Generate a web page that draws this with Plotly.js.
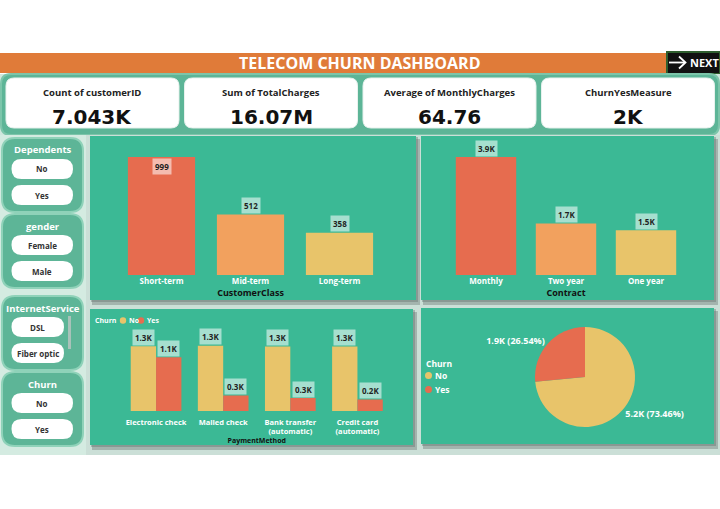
<!DOCTYPE html>
<html><head><meta charset="utf-8">
<script src="https://cdn.plot.ly/plotly-3.0.1.min.js"></script>
<style>html,body{margin:0;padding:0;background:#fff}#chart{width:720px;height:509px}</style>
</head><body><div id="chart"></div>
<script>
// ---------- data ----------
const dashTitle = 'TELECOM CHURN DASHBOARD';
const kpiLabels = ['Count of customerID', 'Sum of TotalCharges', 'Average of MonthlyCharges', 'ChurnYesMeasure'];
const kpiValues = ['7.043K', '16.07M', '64.76', '2K'];

const slicerTitles = ['Dependents', 'gender', 'InternetService', 'Churn'];
const slicerItems = [['No', 'Yes'], ['Female', 'Male'], ['DSL', 'Fiber optic'], ['No', 'Yes']];

const classCats = ['Short-term', 'Mid-term', 'Long-term'];
const classCounts = [999, 512, 358];

const contractCats = ['Monthly', 'Two year', 'One year'];
const contractCounts = [3875, 1695, 1473];

const payCats = ['Electronic check', 'Mailed check', 'Bank transfer<br>(automatic)', 'Credit card<br>(automatic)'];
const payNo = [1294, 1304, 1286, 1290];
const payYes = [1071, 308, 258, 232];

const churnLabels = ['No', 'Yes'];
const churnCounts = [5174, 1869];

// ---------- style ----------
const W = 720, H = 509;
const RED = '#E66C4F', ORANGE = '#F2A15E', YELLOW = '#E8C46A', TEAL = '#3BB995';
const KPIGREEN = '#5DB597';
const FONT = 'Open Sans';
const px = x => x / W;
const py = y => 1 - y / H;
const fmtK = v => (v / 1000).toFixed(1) + 'K';

function rrect(x0, y0, x1, y1, r, fill, line, lw) {
  const X = v => px(v).toFixed(5), Y = v => py(v).toFixed(5);
  const p = `M${X(x0 + r)},${Y(y0)} L${X(x1 - r)},${Y(y0)} Q${X(x1)},${Y(y0)} ${X(x1)},${Y(y0 + r)} ` +
    `L${X(x1)},${Y(y1 - r)} Q${X(x1)},${Y(y1)} ${X(x1 - r)},${Y(y1)} L${X(x0 + r)},${Y(y1)} ` +
    `Q${X(x0)},${Y(y1)} ${X(x0)},${Y(y1 - r)} L${X(x0)},${Y(y0 + r)} Q${X(x0)},${Y(y0)} ${X(x0 + r)},${Y(y0)} Z`;
  return {type: 'path', xref: 'paper', yref: 'paper', path: p, fillcolor: fill,
    line: {color: line || fill, width: line ? (lw || 1) : 0}, layer: 'below'};
}
function rect(x0, y0, x1, y1, fill, extra) {
  return Object.assign({type: 'rect', xref: 'paper', yref: 'paper', x0: px(x0), x1: px(x1), y0: py(y1), y1: py(y0),
    fillcolor: fill, line: {width: 0}, layer: 'below'}, extra || {});
}
function circ(cx, cy, r, fill) {
  return {type: 'circle', xref: 'paper', yref: 'paper', x0: px(cx - r), x1: px(cx + r), y0: py(cy + r), y1: py(cy - r),
    fillcolor: fill, line: {width: 0}, layer: 'above'};
}
function pathShape(pts, color, w, fill) {
  const d = pts.map((p, i) => (i ? 'L' : 'M') + px(p[0]).toFixed(5) + ',' + py(p[1]).toFixed(5)).join(' ') + (fill ? ' Z' : '');
  return {type: 'path', xref: 'paper', yref: 'paper', path: d, line: {color, width: w},
    fillcolor: fill || 'rgba(0,0,0,0)', layer: 'above'};
}
function txt(x, y, text, font, extra) {
  return Object.assign({xref: 'paper', yref: 'paper', x: px(x), y: py(y), text, showarrow: false,
    xanchor: 'center', yanchor: 'middle', font}, extra || {});
}

const shapes = [];
const annotations = [];

// header
shapes.push(rect(0, 53, 667, 73, '#E07B39'));
shapes.push(rect(667, 52, 720, 74, '#111111', {line: {color: '#2f5f2f', width: 2}}));
annotations.push(txt(360, 63, dashTitle, {family: FONT, size: 16, color: '#ffffff', weight: 'bold'}));
shapes.push(pathShape([[669, 62.5], [685, 62.5]], '#ffffff', 1.8));
shapes.push(pathShape([[679, 56.5], [685.5, 62.5], [679, 68.5]], '#ffffff', 1.8));
annotations.push(txt(687.5, 62.5, 'NEXT', {family: FONT, size: 11, color: '#ffffff', weight: 'bold'}, {xanchor: 'left'}));

// KPI band
shapes.push(rect(0, 74, 720, 136, '#cfe7dd'));
shapes.push(rrect(1, 74, 719, 135, 10, KPIGREEN, '#7cc5aa', 2));
kpiLabels.forEach((lab, i) => {
  const x0 = 6 + i * 178.5, x1 = x0 + 173;
  shapes.push(rrect(x0, 78, x1, 128, 8, '#ffffff', '#e8f2ee', 1));
  annotations.push(txt((x0 + x1) / 2, 92.5, lab, {family: FONT, size: 9.5, color: '#222', weight: 'bold'}));
  annotations.push(txt((x0 + x1) / 2, 117, kpiValues[i], {family: 'DejaVu Sans', size: 20, color: '#111', weight: 'bold'}));
});

// main background
shapes.push(rect(0, 135, 720, 455, '#cbdfd7'));
shapes.push(rect(0, 135, 86, 455, '#d4ebe1'));

// slicers
const slTops = [138, 214, 296, 372];
slicerTitles.forEach((t, i) => {
  const top = slTops[i];
  shapes.push(rrect(2, top, 83, top + 74, 13, KPIGREEN, '#8fd2b9', 2));
  annotations.push(txt(42.5, top + 12, t, {family: FONT, size: 9.5, color: '#ffffff', weight: 'bold'}));
  const narrow = i === 2;
  slicerItems[i].forEach((it, j) => {
    const y0 = top + 21 + j * 26, x0 = 11.5, x1 = narrow ? 64 : 73;
    shapes.push(rrect(x0, y0, x1, y0 + 20, 10, '#ffffff'));
    annotations.push(txt((x0 + x1) / 2, y0 + 10, it, {family: FONT, size: 8, color: '#333', weight: 'bold'}));
  });
  if (narrow) shapes.push(rect(68, top + 20, 71, top + 53, '#a9c2b9'));
});

// chart panels with shadows
const panels = [[90, 136, 416, 300], [421, 136, 714, 300], [90, 309, 413, 445], [421, 308, 714, 444]];
panels.forEach(([x0, y0, x1, y1]) => {
  shapes.push(rect(x0 + 2, y0 + 3, x1 + 4, y1 + 5, 'rgba(90,100,96,0.35)'));
  shapes.push(rect(x0 + 1, y0 + 1, x1 + 2, y1 + 2, 'rgba(90,100,96,0.35)'));
  shapes.push(rect(x0, y0, x1, y1, TEAL));
});

// labels for bar charts
const lblStyle = {showarrow: false, bgcolor: 'rgba(255,255,255,0.55)', borderpad: 2,
  font: {family: FONT, size: 8, color: '#1f1f1f', weight: 'bold'}};
const maxClass = Math.max(...classCounts);
classCats.forEach((c, i) => annotations.push(Object.assign({}, lblStyle, {
  xref: 'x', yref: 'y', x: c, y: classCounts[i], text: String(classCounts[i]),
  yshift: classCounts[i] === maxClass ? -9 : 9})));
contractCats.forEach((c, i) => annotations.push(Object.assign({}, lblStyle, {
  xref: 'x2', yref: 'y2', x: c, y: contractCounts[i], text: fmtK(contractCounts[i]), yshift: 9})));
payCats.forEach((c, i) => {
  annotations.push(Object.assign({}, lblStyle, {xref: 'x3', yref: 'y3', x: i - 0.19, y: payNo[i], text: fmtK(payNo[i]), yshift: 9}));
  annotations.push(Object.assign({}, lblStyle, {xref: 'x3', yref: 'y3', x: i + 0.19, y: payYes[i], text: fmtK(payYes[i]), yshift: 9}));
});

// legends (circle markers drawn as shapes)
const legColors = [YELLOW, RED];
const legFont = {family: FONT, size: 7, color: '#ffffff', weight: 'bold'};
annotations.push(txt(93, 320, 'Churn', legFont, {xanchor: 'left'}));
churnLabels.forEach((l, i) => {
  const cx = 123 + i * 18;
  shapes.push(circ(cx, 320.5, 3.2, legColors[i]));
  annotations.push(txt(cx + 3.5, 320, l, legFont, {xanchor: 'left'}));
});
const legFont2 = {family: FONT, size: 8.5, color: '#ffffff', weight: 'bold'};
annotations.push(txt(424, 363, 'Churn', legFont2, {xanchor: 'left'}));
churnLabels.forEach((l, i) => {
  const cy = 375 + i * 14;
  shapes.push(circ(428.5, cy + 0.5, 3.5, legColors[i]));
  annotations.push(txt(432.5, cy, l, legFont2, {xanchor: 'left'}));
});

// ---------- traces ----------
const tickFont = {family: FONT, size: 8, color: '#ffffff', weight: 'bold'};
const titleFont = {family: FONT, size: 9, color: '#111', weight: 'bold'};
const traces = [
  {type: 'bar', x: classCats, y: classCounts, xaxis: 'x', yaxis: 'y',
    marker: {color: [RED, ORANGE, YELLOW]}, hoverinfo: 'none', showlegend: false},
  {type: 'bar', x: contractCats, y: contractCounts, xaxis: 'x2', yaxis: 'y2',
    marker: {color: [RED, ORANGE, YELLOW]}, hoverinfo: 'none', showlegend: false},
  {type: 'bar', name: 'No', x: payCats, y: payNo, xaxis: 'x3', yaxis: 'y3',
    marker: {color: YELLOW}, hoverinfo: 'none', showlegend: false},
  {type: 'bar', name: 'Yes', x: payCats, y: payYes, xaxis: 'x3', yaxis: 'y3',
    marker: {color: RED}, hoverinfo: 'none', showlegend: false},
  {type: 'pie', labels: churnLabels, values: churnCounts, text: churnCounts.map(fmtK),
    texttemplate: '%{text} (%{percent:.2%})', textposition: 'outside',
    textfont: {family: FONT, size: 9, color: '#ffffff', weight: 'bold'},
    marker: {colors: [YELLOW, RED]}, sort: false, direction: 'clockwise', rotation: 0,
    domain: {x: [px(535), px(635)], y: [py(427), py(327)]}, hoverinfo: 'none', showlegend: false}
];

function xax(d0, d1, anchor, title, extra) {
  return Object.assign({domain: [px(d0), px(d1)], anchor, type: 'category', showgrid: false, zeroline: false,
    showline: false, ticks: '', tickfont: tickFont, fixedrange: true,
    title: {text: title, font: titleFont, standoff: 2}}, extra || {});
}
function yax(b, t, anchor, max) {
  return {domain: [py(b), py(t)], anchor, range: [0, max], visible: false, fixedrange: true};
}

const layout = {
  width: W, height: H, margin: {l: 0, r: 0, t: 0, b: 0},
  paper_bgcolor: '#ffffff', plot_bgcolor: 'rgba(0,0,0,0)',
  barmode: 'group', bargap: 0.245, bargroupgap: 0,
  showlegend: false,
  xaxis: xax(117, 384, 'y', 'CustomerClass'),
  yaxis: yax(275, 145, 'x', maxClass * 130 / 118),
  xaxis2: xax(446, 686, 'y2', 'Contract'),
  yaxis2: yax(275, 145, 'x2', Math.max(...contractCounts) * 130 / 118),
  xaxis3: xax(122.5, 391, 'y3', 'PaymentMethod', {tickfont: Object.assign({}, tickFont, {size: 7.5}),
    ticklabelstandoff: 5,
    title: {text: 'PaymentMethod', font: Object.assign({}, titleFont, {size: 7}), standoff: 1}}),
  yaxis3: yax(411, 340, 'x3', Math.max(...payNo) * 71 / 65.3),
  shapes, annotations
};

Plotly.newPlot('chart', traces, layout, {displayModeBar: false, staticPlot: true});
</script>
</body></html>
